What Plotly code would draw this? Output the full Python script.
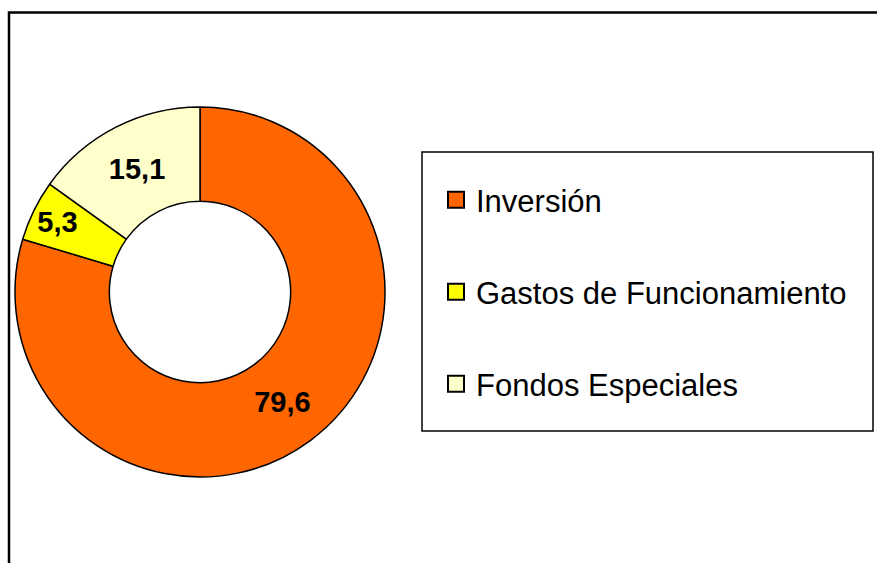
import plotly.graph_objects as go

categories = ["Inversión", "Gastos de Funcionamiento", "Fondos Especiales"]
values = [79.6, 5.3, 15.1]
colors = ["#FF6600", "#FFFF00", "#FFFFCC"]

W, H = 877, 563
cx, cy, r = 200, 292, 185

fig = go.Figure()
fig.add_trace(go.Pie(
    labels=categories, values=values, sort=False, direction="clockwise", rotation=0,
    hole=0.49, marker=dict(colors=colors, line=dict(color="black", width=1.5)),
    texttemplate="%{value:.1f}", textposition="inside", insidetextorientation="horizontal",
    textfont=dict(family="Liberation Sans, Arial", size=29, color="black", weight="bold"),
    domain=dict(x=[(cx - r) / W, (cx + r) / W], y=[(H - cy - r) / H, (H - cy + r) / H]),
    showlegend=False, hoverinfo="label+value",
))

legend_names = ["legend", "legend2", "legend3"]
row_y = [200, 292, 384]
for name, col, lg in zip(categories, colors, legend_names):
    fig.add_trace(go.Scatter(
        x=[None], y=[None], mode="markers", name=name, legend=lg,
        marker=dict(symbol="square", size=16, color=col, line=dict(color="black", width=2)),
    ))

leg_common = dict(font=dict(family="Liberation Sans, Arial", size=31, color="black"),
                  bgcolor="rgba(0,0,0,0)", borderwidth=0, xanchor="left", yanchor="middle",
                  x=(436) / W)
layout_legends = {}
for lg, yy in zip(legend_names, row_y):
    layout_legends[lg] = dict(leg_common, y=(H - yy) / H)

fig.update_layout(
    width=W, height=H, margin=dict(l=0, r=0, t=0, b=0),
    paper_bgcolor="white", plot_bgcolor="white", separators=",.",
    xaxis=dict(visible=False), yaxis=dict(visible=False),
    uniformtext=dict(minsize=29, mode="show"),
    shapes=[
        dict(type="rect", xref="paper", yref="paper", x0=9 / W, x1=1.05, y0=-0.05, y1=(H - 12.5) / H,
             line=dict(color="black", width=2.5), layer="above"),
        dict(type="rect", xref="paper", yref="paper", x0=422 / W, x1=873 / W,
             y0=(H - 431) / H, y1=(H - 152) / H, line=dict(color="black", width=1.5)),
    ],
    **layout_legends,
)

fig.write_html("out.html", config={"displayModeBar": False},
               post_script="document.body.style.margin='0';document.body.style.overflow='hidden';")
